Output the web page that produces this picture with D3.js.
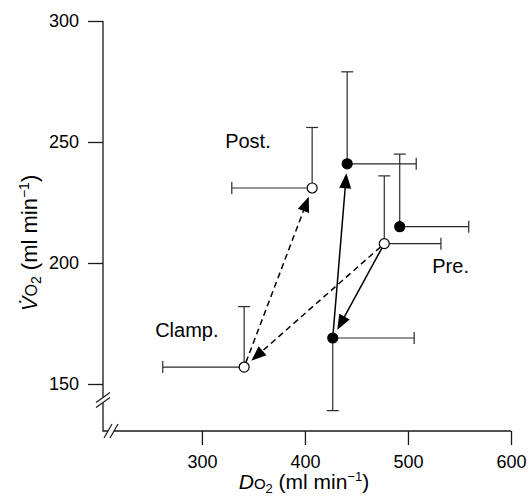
<!DOCTYPE html>
<html>
<head>
<meta charset="utf-8">
<script src="https://cdn.jsdelivr.net/npm/d3@7"></script>
<style>
  body { margin: 0; background: #fff; }
  svg { display: block; }
  text { font-family: "Liberation Sans", Arial, Helvetica, sans-serif; fill: #000; }
</style>
</head>
<body>
<div id="chart"></div>
<script>
// order of points: Pre., Clamp., Post.
const conditions = ["Pre.", "Clamp.", "Post."];

// open circles
const openDO2 = [477, 341, 407];
const openVO2 = [208, 157, 231];
const openDO2Err = [55, -79, -78];   // one-sided bars, sign = direction
const openVO2Err = [28, 25, 25];

// filled circles
const filledDO2 = [492, 427, 441];
const filledVO2 = [215, 169, 241];
const filledDO2Err = [67, 79, 67];
const filledVO2Err = [30, -30, 38];

const xTicks = [300, 400, 500, 600];
const yTicks = [150, 200, 250, 300];

const width = 531, height = 502;
const svg = d3.select("#chart").append("svg")
    .attr("width", width)
    .attr("height", height);

const x = d3.scaleLinear().domain([204, 600]).range([103, 511]);
const y = d3.scaleLinear().domain([150, 300]).range([384, 21]);
const axisBottomY = 431;

const ink = "#1a1a1a";

// ---- axes
const xAxis = svg.append("g")
    .attr("transform", "translate(0," + axisBottomY + ")")
    .call(d3.axisBottom(x).tickValues(xTicks).tickSize(14).tickPadding(10).tickSizeOuter(0));
const yAxis = svg.append("g")
    .attr("transform", "translate(" + x(204) + ",0)")
    .call(d3.axisLeft(y).tickValues(yTicks).tickSize(15).tickPadding(9).tickSizeOuter(0));

[xAxis, yAxis].forEach(a => {
  a.select(".domain").remove();
  a.selectAll(".tick line").attr("stroke", ink).attr("stroke-width", 1.3);
  a.selectAll(".tick text")
    .style("font-size", "18px")
    .attr("fill", "#000");
});

// axis lines with a break in each
const x0 = x(204);
svg.append("path")
    .attr("d", "M" + x0 + "," + y(300) + "V" + axisBottomY + "H" + x(600))
    .attr("fill", "none").attr("stroke", ink).attr("stroke-width", 1.3);

// y break
const yb = 400;
svg.append("rect").attr("x", x0 - 2).attr("y", yb - 2.5).attr("width", 4).attr("height", 5).attr("fill", "#fff");
[-2.5, 2.5].forEach(d => {
  svg.append("line")
    .attr("x1", x0 - 7).attr("y1", yb + d + 5)
    .attr("x2", x0 + 7).attr("y2", yb + d - 5)
    .attr("stroke", ink).attr("stroke-width", 1.2);
});
// x break
const xb = 111;
svg.append("rect").attr("x", xb - 3).attr("y", axisBottomY - 2).attr("width", 6).attr("height", 4).attr("fill", "#fff");
[-3, 3].forEach(d => {
  svg.append("line")
    .attr("x1", xb + d - 4).attr("y1", axisBottomY + 7)
    .attr("x2", xb + d + 4).attr("y2", axisBottomY - 7)
    .attr("stroke", ink).attr("stroke-width", 1.2);
});

// ---- axis titles
function title(sel, first, size) {
  const small = Math.round(size * 0.72), sub = Math.round(size * 0.64);
  sel.style("font-size", size + "px");
  sel.append("tspan").attr("font-style", "italic").text(first);
  sel.append("tspan").style("font-size", small + "px").text("O");
  sel.append("tspan").style("font-size", sub + "px").attr("dy", 4).text("2");
  sel.append("tspan").attr("dy", -4).text(" (ml min");
  sel.append("tspan").style("font-size", sub + "px").attr("dy", -8).text("\u22121");
  sel.append("tspan").attr("dy", 8).text(")");
}
svg.append("text")
    .attr("x", 304).attr("y", 489)
    .attr("text-anchor", "middle")
    .call(title, "D", 21);

svg.append("text")
    .attr("transform", "translate(37,243) rotate(-90)")
    .attr("text-anchor", "middle")
    .call(title, "V\u0307", 22);

// ---- points
const openPts = conditions.map((c, i) => ({
  c, cx: x(openDO2[i]), cy: y(openVO2[i]),
  ex: x(openDO2[i] + openDO2Err[i]), ey: y(openVO2[i] + openVO2Err[i]), fill: "#fff"
}));
const filledPts = conditions.map((c, i) => ({
  c, cx: x(filledDO2[i]), cy: y(filledVO2[i]),
  ex: x(filledDO2[i] + filledDO2Err[i]), ey: y(filledVO2[i] + filledVO2Err[i]), fill: "#000"
}));
const allPts = openPts.concat(filledPts);

const cap = 6;
const bars = svg.append("g").attr("stroke", "#2a2a2a").attr("stroke-width", 1.2).attr("fill", "none");
allPts.forEach(p => {
  bars.append("line").attr("x1", p.cx).attr("y1", p.cy).attr("x2", p.ex).attr("y2", p.cy);
  bars.append("line").attr("x1", p.ex).attr("y1", p.cy - cap).attr("x2", p.ex).attr("y2", p.cy + cap);
  bars.append("line").attr("x1", p.cx).attr("y1", p.cy).attr("x2", p.cx).attr("y2", p.ey);
  bars.append("line").attr("x1", p.cx - cap).attr("y1", p.ey).attr("x2", p.cx + cap).attr("y2", p.ey);
});

// ---- arrows
const r = 5;
function arrow(a, b, dashed) {
  const dx = b.cx - a.cx, dy = b.cy - a.cy;
  const L = Math.sqrt(dx * dx + dy * dy);
  const ux = dx / L, uy = dy / L;
  const nx = -uy, ny = ux;
  const gap = 9.5, len = 15, hw = 6;
  const tx = b.cx - ux * gap, ty = b.cy - uy * gap;
  const bx = tx - ux * len, by = ty - uy * len;
  svg.append("line")
    .attr("x1", a.cx + ux * r).attr("y1", a.cy + uy * r)
    .attr("x2", bx + ux * 4).attr("y2", by + uy * 4)
    .attr("stroke", "#000").attr("stroke-width", 1.5)
    .attr("stroke-dasharray", dashed ? "6,4" : null);
  svg.append("path")
    .attr("d", "M" + tx + "," + ty +
               "L" + (bx + nx * hw) + "," + (by + ny * hw) +
               "L" + (bx - nx * hw) + "," + (by - ny * hw) + "Z")
    .attr("fill", "#000");
}
arrow(openPts[0], openPts[1], true);
arrow(openPts[1], openPts[2], true);
arrow(openPts[0], filledPts[1], false);
arrow(filledPts[1], filledPts[2], false);

svg.append("g").selectAll("circle")
  .data(allPts)
  .join("circle")
    .attr("cx", d => d.cx).attr("cy", d => d.cy).attr("r", r)
    .attr("fill", d => d.fill)
    .attr("stroke", "#000").attr("stroke-width", 1.2);

// ---- condition labels, placed beside the open circles
const labelOffsets = [[48, 29], [-89, -30], [-87, -40]];
svg.append("g").selectAll("text")
  .data(openPts)
  .join("text")
    .attr("x", (d, i) => d.cx + labelOffsets[i][0])
    .attr("y", (d, i) => d.cy + labelOffsets[i][1])
    .style("font-size", "20px")
    .text(d => d.c);
</script>
</body>
</html>
